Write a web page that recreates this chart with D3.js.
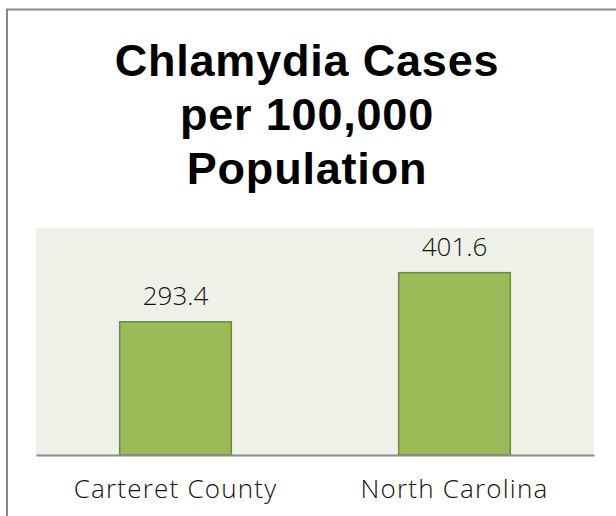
<!DOCTYPE html>
<html>
<head>
<meta charset="utf-8">
<script src="https://cdn.jsdelivr.net/npm/d3@7"></script>
<style>
  html, body { margin: 0; padding: 0; background: #fff; }
  svg { display: block; }
</style>
</head>
<body>
<svg id="chart" width="616" height="516"></svg>
<script>
const categories = ["Carteret County", "North Carolina"];
const values = [293.4, 401.6];
const valueLabels = ["293.4", "401.6"];
const titleLines = ["Chlamydia Cases", "per 100,000", "Population"];
const yDomain = [0, 500];

const svg = d3.select("#chart");
const W = 616, H = 516;
const plot = { left: 36, right: 594, top: 228, bottom: 455 };

// outer frame (extends beyond right/bottom edge)
svg.append("rect")
  .attr("x", 7).attr("y", 9.5)
  .attr("width", W + 20).attr("height", H + 20)
  .attr("fill", "#fff")
  .attr("stroke", "#888888").attr("stroke-width", 2);

// title
const title = svg.append("text")
  .attr("text-anchor", "middle")
  .attr("font-family", "'Liberation Sans', Arial, sans-serif")
  .attr("font-weight", "bold")
  .attr("font-size", 45)
  .attr("letter-spacing", 0.8)
  .attr("fill", "#000");
titleLines.forEach((t, i) => {
  title.append("tspan").attr("x", 307).attr("y", 76 + i * 54).text(t);
});

// plot background
svg.append("rect")
  .attr("x", plot.left).attr("y", plot.top)
  .attr("width", plot.right - plot.left).attr("height", plot.bottom - plot.top)
  .attr("fill", "#EEF1E8");

const x = d3.scaleBand()
  .domain(categories)
  .range([plot.left, plot.right])
  .paddingInner(0.6)
  .paddingOuter(0.3);

const y = d3.scaleLinear().domain(yDomain).range([plot.bottom, plot.top]);

// bars
svg.append("g").selectAll("rect")
  .data(categories)
  .join("rect")
  .attr("x", d => x(d))
  .attr("y", (d, i) => y(values[i]))
  .attr("width", x.bandwidth())
  .attr("height", (d, i) => y(0) - y(values[i]))
  .attr("fill", "#9BBB59")
  .attr("stroke", "#71893F")
  .attr("stroke-width", 1.5);

// value labels
svg.append("g").selectAll("text")
  .data(categories)
  .join("text")
  .attr("x", d => x(d) + x.bandwidth() / 2)
  .attr("y", (d, i) => y(values[i]) - 17)
  .attr("text-anchor", "middle")
  .attr("font-family", "'Open Sans', sans-serif")
  .attr("font-weight", 300)
  .attr("font-size", 26)
  .attr("fill", "#111")
  .text((d, i) => valueLabels[i]);

// x axis
const xAxis = d3.axisBottom(x).tickSize(0).tickPadding(0);
const gx = svg.append("g")
  .attr("transform", `translate(0,${plot.bottom})`)
  .call(xAxis);
gx.select(".domain")
  .attr("stroke", "#8C8C8C")
  .attr("stroke-width", 2);
gx.selectAll(".tick text")
  .attr("dy", 0)
  .attr("y", 43)
  .attr("font-family", "'Open Sans', sans-serif")
  .attr("font-weight", 300)
  .attr("font-size", 26)
  .attr("letter-spacing", 1.2)
  .attr("fill", "#111");
</script>
</body>
</html>
